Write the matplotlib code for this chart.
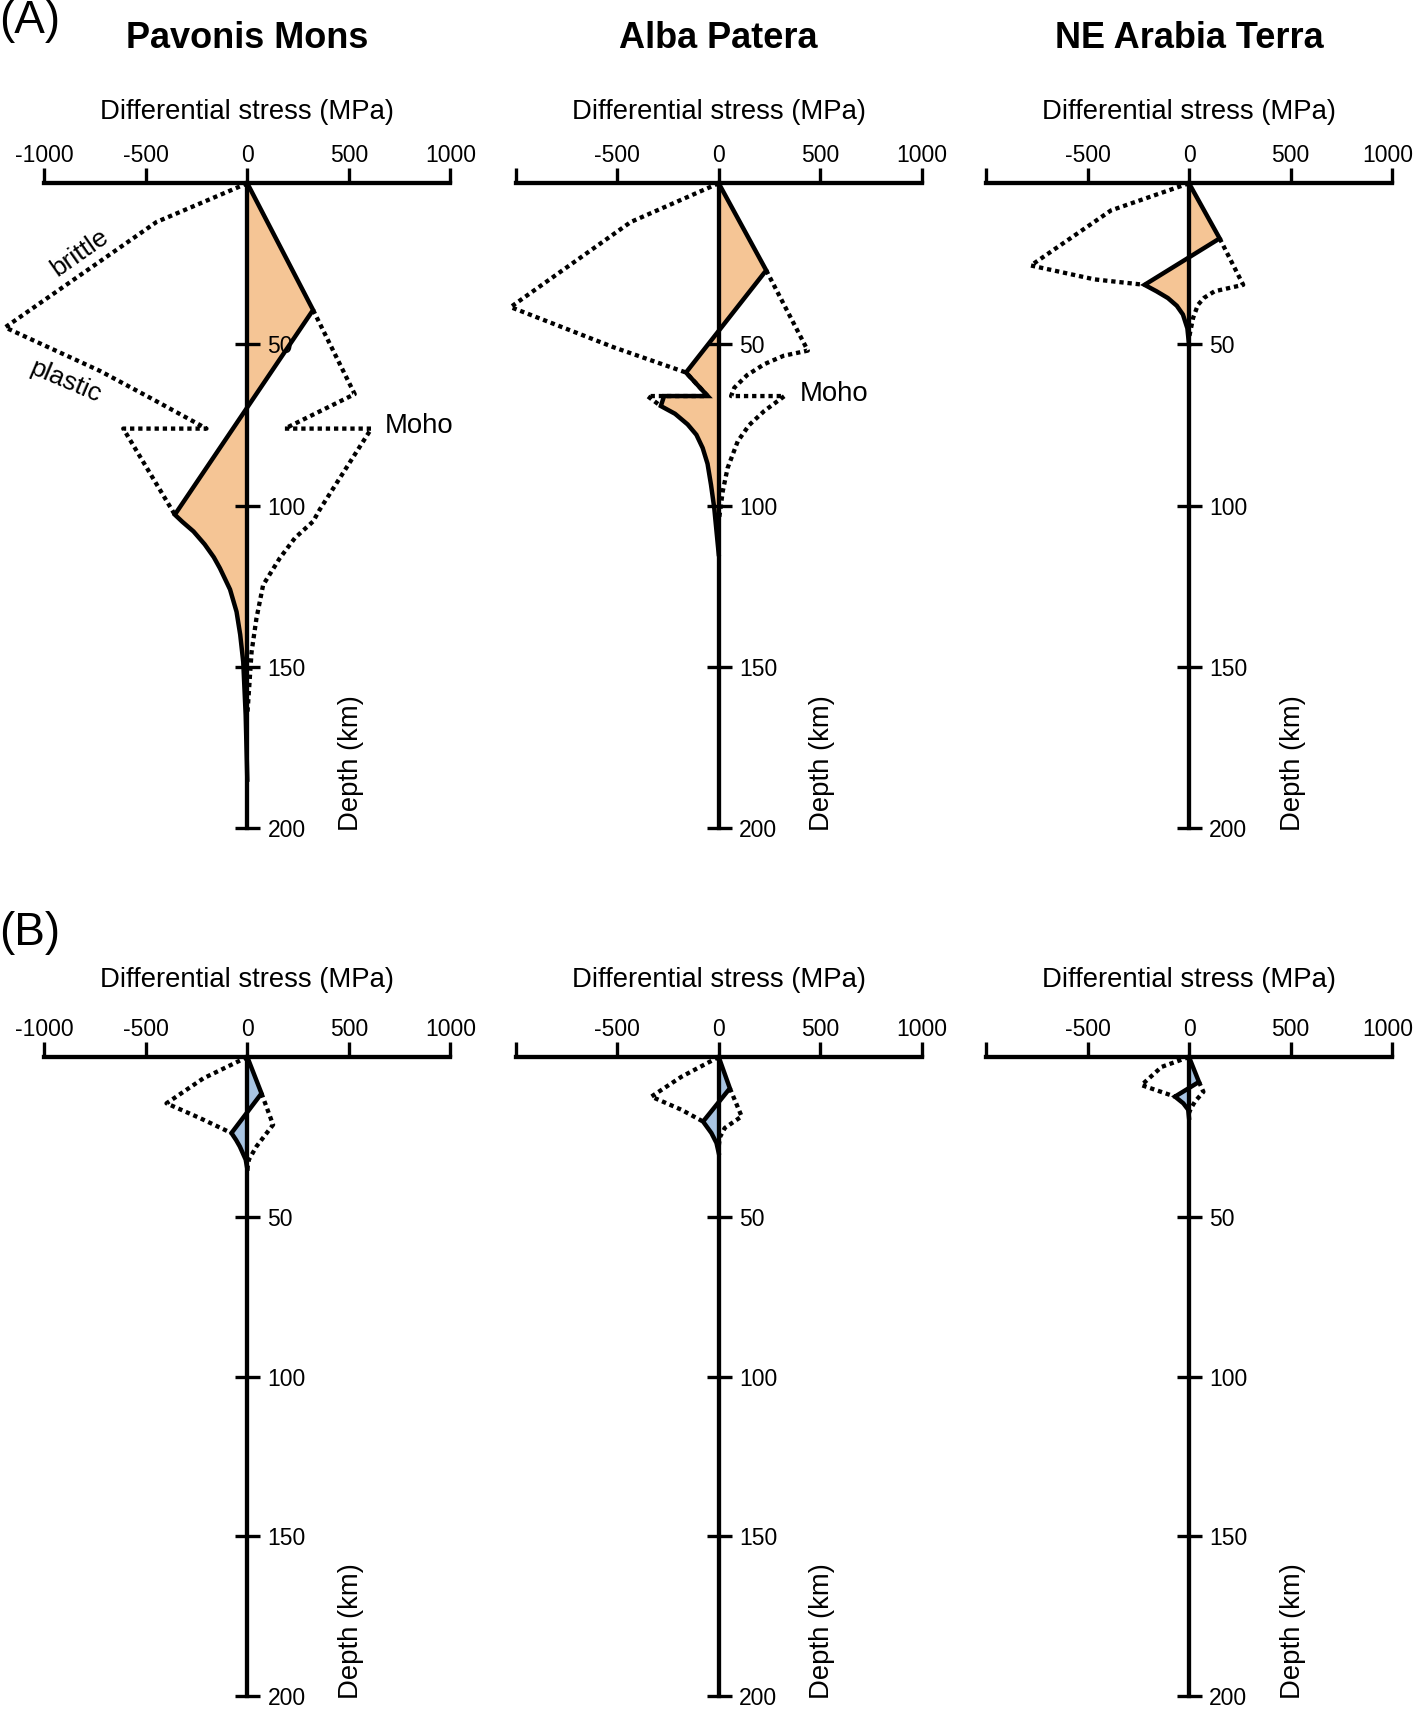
import matplotlib
matplotlib.use('Agg')
import matplotlib.pyplot as plt
from matplotlib.transforms import ScaledTranslation

plt.rcParams['font.family'] = ['Liberation Sans', 'DejaVu Sans']

# Data (depth in km, differential stress in MPa) -------------------------------------------

# (A) Pavonis Mons
pm_a_z = [0, 39.3, 102.8, 105, 108, 112, 116, 119.4, 126, 132.9, 140, 148.5, 165, 185]
pm_a_s = [0, 324, -357, -320, -265, -210, -165, -135, -85, -53, -35, -20, -8, 0]
pm_a_lz = [0, 12, 44.7, 58.2, 66.5, 76.1, 76.1, 102.8]
pm_a_ls = [0, -447, -1193, -726, -480, -201, -611, -357]
pm_a_rz = [39.3, 65.4, 76.1, 76.1, 101.2, 104.9, 110, 116.3, 124.6, 135, 145.4, 165]
pm_a_rs = [324, 529, 185, 611, 357, 324, 235, 160, 78, 45, 21, 0]

# (A) Alba Patera
ap_a_z = [0, 27.0, 58.7, 66.0, 66.0, 69.1, 71.5, 74.8, 78, 82.1, 87, 93.5, 100.7, 115]
ap_a_s = [0, 234, -161, -54, -269, -285, -215, -153, -110, -79, -55, -38, -22, 0]
ap_a_lz = [0, 12.0, 38.4, 50.9, 58.7, 66.0, 66.0, 69.1]
ap_a_ls = [0, -433, -1025, -516, -161, -54, -351, -285]
ap_a_rz = [27.0, 51.9, 53.5, 56.1, 59.5, 63.4, 66.0, 66.0, 70.6, 75, 80.0, 88.3, 95.5, 105]
ap_a_rs = [234, 439, 320, 225, 140, 77, 61, 324, 225, 150, 94, 44, 20, 0]

# (A) NE Arabia Terra
at_a_z = [0, 17.1, 31.5, 33.5, 35.6, 38, 40.7, 45, 50]
at_a_s = [0, 151, -219, -160, -104, -60, -30, -8, 0]
at_a_lz = [0, 8.4, 25.5, 29.8, 31.5]
at_a_ls = [0, -384, -779, -466, -219]
at_a_rz = [17.1, 31.5, 33.5, 35.5, 37.7, 41.8, 48]
at_a_rs = [151, 267, 126, 75, 44, 20, 0]

# (B) Pavonis Mons
pm_b_z = [0, 11.4, 23.8, 26, 28.0, 32.1, 35]
pm_b_s = [0, 70, -78, -55, -37, -8, 0]
pm_b_lz = [0, 6.7, 14.5, 19.1, 23.8]
pm_b_ls = [0, -217, -398, -234, -78]
pm_b_rz = [11.4, 21.2, 28.0, 32.1, 35]
pm_b_rs = [70, 127, 45, 8, 0]

# (B) Alba Patera
ap_b_z = [0, 9.8, 20.2, 23.8, 26.9, 30]
ap_b_s = [0, 55, -77, -36, -11, 0]
ap_b_lz = [0, 6.2, 12.4, 16.5, 20.2]
ap_b_ls = [0, -184, -332, -184, -77]
ap_b_rz = [9.8, 18.6, 22.2, 25.1, 28]
ap_b_rs = [55, 113, 30, 6, 0]

# (B) NE Arabia Terra
at_b_z = [0, 7.8, 12.4, 14.5, 16.5, 19]
at_b_s = [0, 49, -69, -28, -4, 0]
at_b_lz = [0, 3.1, 8.8, 12.4]
at_b_ls = [0, -135, -234, -69]
at_b_rz = [7.8, 10.9, 13.9, 16.0, 17.5]
at_b_rs = [49, 71, 30, 10, 0]

titles = ['Pavonis Mons', 'Alba Patera', 'NE Arabia Terra']
xticks = [-1000, -500, 0, 500, 1000]
yticks = [50, 100, 150, 200]

orange = '#F5C595'
blue = '#A8C4E2'

# Layout -------------------------------------------------------------------------------
W, H = 1413, 1710
fig = plt.figure(figsize=(W / 100, H / 100), dpi=100)

lefts = [44.3, 515.7, 986.0]
width = 406.0
row_top = [183.3, 1057.0]
row_h = [644.7, 639.0]


def draw_panel(ax, z, s, lz, ls, rz, rs, fill, first):
    ax.set_xlim(-1000, 1000)
    ax.set_ylim(200, 0)
    ax.fill_betweenx(z, s, 0, color=fill, lw=0, zorder=1)
    ax.plot(ls, lz, color='black', lw=3.1, ls=(0, (1, 0.9)), clip_on=False, zorder=3)
    ax.plot(rs, rz, color='black', lw=3.1, ls=(0, (1, 0.9)), clip_on=False, zorder=3)
    ax.plot(s, z, color='black', lw=3.2, clip_on=False, zorder=4,
            solid_joinstyle='miter')
    for sp in ['left', 'bottom']:
        ax.spines[sp].set_visible(False)
    ax.spines['top'].set_linewidth(3.1)
    ax.spines['right'].set_position(('data', 0))
    ax.spines['right'].set_linewidth(3.1)
    ax.spines['right'].set_zorder(4)
    ax.xaxis.tick_top()
    ax.set_xticks(xticks)
    lab = [str(t) for t in xticks]
    if not first:
        lab[0] = ''
    ax.set_xticklabels(lab)
    ax.tick_params(axis='x', direction='out', length=10.8, width=2.4,
                   labelsize=16.5, pad=1)
    ax.yaxis.tick_right()
    ax.set_yticks(yticks)
    ax.tick_params(axis='y', direction='inout', length=18, width=2.4,
                   labelsize=16.5, pad=5.5)
    ax.patch.set_visible(False)
    ax.text(510, 201, 'Depth (km)', rotation=90, ha='center', va='bottom',
            fontsize=19.8)


panels = [
    (pm_a_z, pm_a_s, pm_a_lz, pm_a_ls, pm_a_rz, pm_a_rs),
    (ap_a_z, ap_a_s, ap_a_lz, ap_a_ls, ap_a_rz, ap_a_rs),
    (at_a_z, at_a_s, at_a_lz, at_a_ls, at_a_rz, at_a_rs),
    (pm_b_z, pm_b_s, pm_b_lz, pm_b_ls, pm_b_rz, pm_b_rs),
    (ap_b_z, ap_b_s, ap_b_lz, ap_b_ls, ap_b_rz, ap_b_rs),
    (at_b_z, at_b_s, at_b_lz, at_b_ls, at_b_rz, at_b_rs),
]

axes = []
for r in range(2):
    for c in range(3):
        top = row_top[r]
        ax = fig.add_axes([lefts[c] / W, 1 - (top + row_h[r]) / H, width / W, row_h[r] / H])
        draw_panel(ax, *panels[r * 3 + c], orange if r == 0 else blue, c == 0)
        if c == 2:
            # keep the last "1000" inside the figure edge
            last = ax.get_xticklabels()[-1]
            last.set_transform(last.get_transform() +
                               ScaledTranslation(-4 / 100, 0, fig.dpi_scale_trans))
        axes.append(ax)
        cx = (lefts[c] + width / 2) / W
        lab_y = [112, 979.5][r]
        fig.text(cx, 1 - lab_y / H, 'Differential stress (MPa)', ha='center',
                 va='center', fontsize=19.8)
        if r == 0:
            fig.text(cx, 1 - 39 / H, titles[c], ha='center', va='center',
                     fontsize=26, fontweight='bold')

fig.text(29.5 / W, 1 - 21 / H, '(A)', ha='center', va='center', fontsize=33)
fig.text(29.5 / W, 1 - 933 / H, '(B)', ha='center', va='center', fontsize=33)

# annotations
axes[0].text(677, 75.2, 'Moho', ha='left', va='center', fontsize=19.8)
axes[1].text(397, 65.4, 'Moho', ha='left', va='center', fontsize=19.8)
axes[0].text(-824, 21.7, 'brittle', ha='center', va='center', fontsize=19,
             rotation=35, rotation_mode='anchor')
axes[0].text(-894, 61.4, 'plastic', ha='center', va='center', fontsize=19,
             rotation=-23, rotation_mode='anchor')

fig.savefig('out.png', dpi=100, facecolor='white')
